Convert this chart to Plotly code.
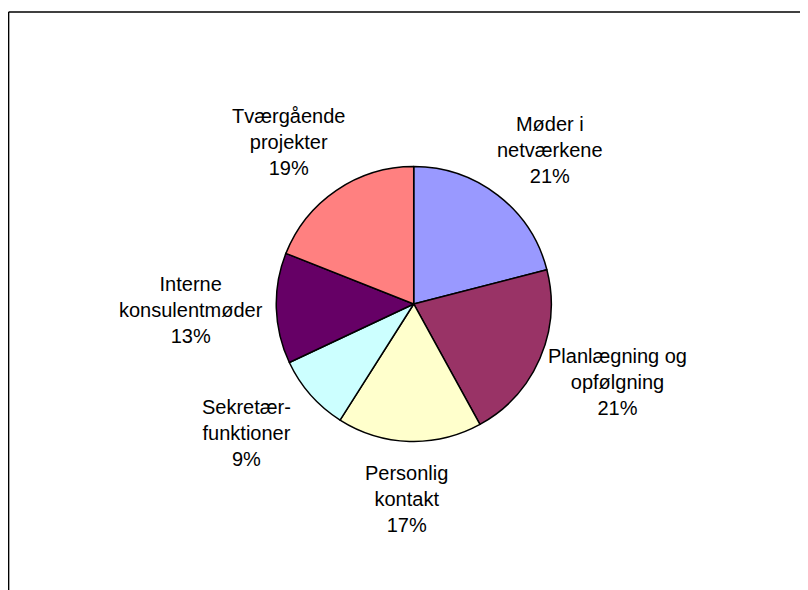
import math
import plotly.graph_objects as go

categories = ["Møder i netværkene", "Planlægning og opfølgning", "Personlig kontakt",
              "Sekretærfunktioner", "Interne konsulentmøder", "Tværgående projekter"]
label_lines = ["Møder i<br>netværkene", "Planlægning og<br>opfølgning", "Personlig<br>kontakt",
               "Sekretær-<br>funktioner", "Interne<br>konsulentmøder", "Tværgående<br>projekter"]
values = [21, 21, 17, 9, 13, 19]
colors = ["#9999FF", "#993366", "#FFFFCC", "#CCFFFF", "#660066", "#FF8080"]

# figure geometry (page body adds an 8px margin)
W, H = 800, 582
dom_x = [0.3353, 0.6790]
dom_y = [0.2552, 0.7277]
FONT = "Liberation Sans, Arial, sans-serif"

fig = go.Figure(go.Pie(
    labels=categories,
    values=values,
    sort=False,
    direction="clockwise",
    rotation=0,
    marker=dict(colors=colors, line=dict(color="black", width=1.5)),
    textinfo="none",
    hoverinfo="label+percent",
    domain=dict(x=dom_x, y=dom_y),
    showlegend=False,
))

# labels placed around the pie at each slice's mid angle
cx = (dom_x[0] + dom_x[1]) / 2 * W
cy = (dom_y[0] + dom_y[1]) / 2 * H
R = min((dom_x[1] - dom_x[0]) * W, (dom_y[1] - dom_y[0]) * H) / 2
a_rad = R + 85   # horizontal reach of label centres
b_rad = R + 58   # vertical reach of label centres
total = sum(values)
cum = 0
annotations = []
for lab, v in zip(label_lines, values):
    mid = (cum + v / 2) / total * 2 * math.pi
    cum += v
    px = cx + a_rad * math.sin(mid)
    py = cy + b_rad * math.cos(mid)
    pct = round(v / total * 100)
    annotations.append(dict(
        x=px / W, y=py / H, xref="paper", yref="paper",
        text=f"{lab}<br>{pct}%", showarrow=False,
        xanchor="center", yanchor="middle", align="center",
        font=dict(family=FONT, size=20, color="black"),
    ))

fig.update_layout(
    width=W, height=H,
    margin=dict(l=0, r=0, t=0, b=0),
    paper_bgcolor="white",
    plot_bgcolor="white",
    annotations=annotations,
    shapes=[
        dict(type="line", xref="paper", yref="paper",
             x0=0.6 / W, x1=0.6 / W, y0=1 - 4 / H, y1=-0.05,
             line=dict(color="black", width=1.5)),
        dict(type="line", xref="paper", yref="paper",
             x0=0.6 / W, x1=1.05, y0=1 - 4 / H, y1=1 - 4 / H,
             line=dict(color="black", width=1.5)),
    ],
)

fig.write_html("out.html")
